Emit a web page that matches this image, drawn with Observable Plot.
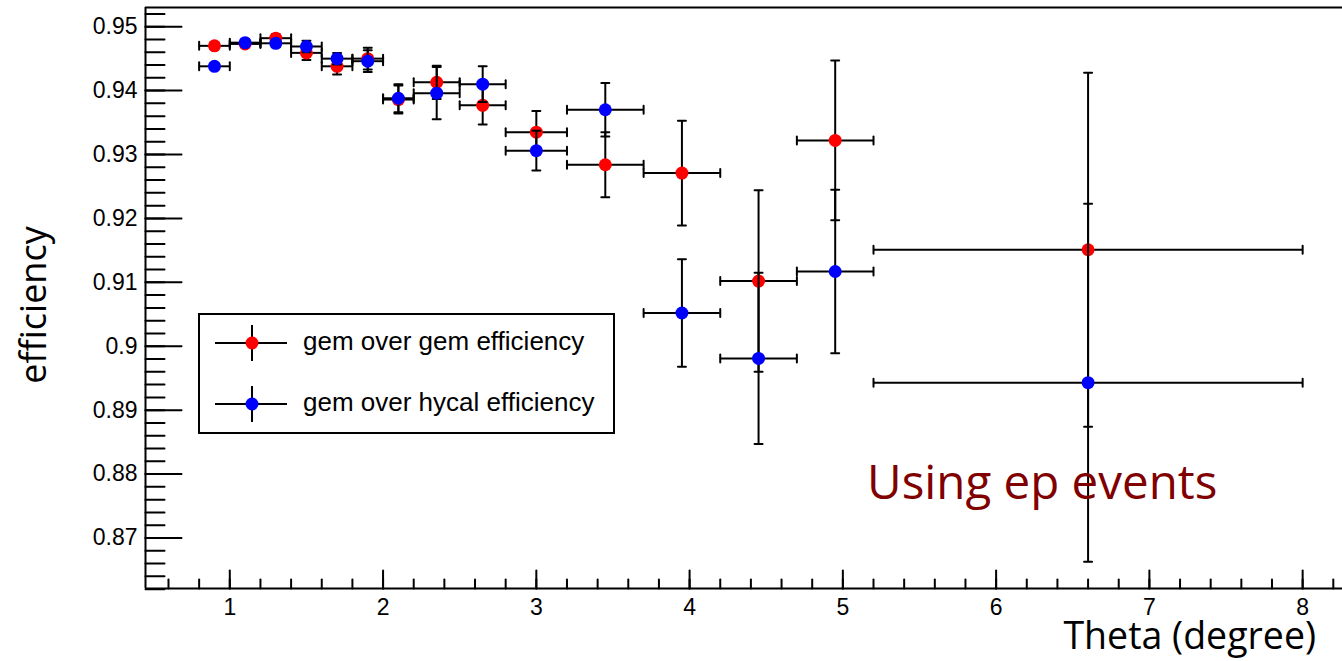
<!DOCTYPE html>
<html>
<head>
<meta charset="utf-8">
<script src="https://cdn.jsdelivr.net/npm/d3@7"></script>
<script src="https://cdn.jsdelivr.net/npm/@observablehq/plot@0.6"></script>
<style>
  html, body { margin: 0; padding: 0; background: #fff; }
  #wrap { position: relative; width: 1342px; height: 661px; overflow: hidden; background: #fff; }
  #wrap svg { display: block; }
</style>
</head>
<body>
<div id="wrap"></div>
<script>
// ---- Data ----
const binLow    = [0.8, 1.0, 1.2, 1.4, 1.6, 1.8, 2.0, 2.2, 2.5, 2.8, 3.2, 3.7, 4.2, 4.7, 5.2];
const binHigh   = [1.0, 1.2, 1.4, 1.6, 1.8, 2.0, 2.2, 2.5, 2.8, 3.2, 3.7, 4.2, 4.7, 5.2, 8.0];
const thetaMid  = [0.9, 1.1, 1.3, 1.5, 1.7, 1.9, 2.1, 2.35, 2.65, 3.0, 3.45, 3.95, 4.45, 4.95, 6.6];

const gemOverGem      = [0.9470, 0.9473, 0.9482, 0.9459, 0.9438, 0.9450, 0.9386, 0.9413, 0.9377, 0.9335, 0.9284, 0.9271, 0.9102, 0.9322, 0.9151];
const gemOverGemErr   = [0.0005, 0.0005, 0.0006, 0.0011, 0.0013, 0.0017, 0.0022, 0.0026, 0.0030, 0.0033, 0.0051, 0.0082, 0.0142, 0.0125, 0.0277];
const gemOverHycal    = [0.9438, 0.9475, 0.9474, 0.9469, 0.9450, 0.9446, 0.9388, 0.9396, 0.9410, 0.9306, 0.9370, 0.9052, 0.8981, 0.9117, 0.8943];
const gemOverHycalErr = [0.0005, 0.0005, 0.0006, 0.0009, 0.0009, 0.0017, 0.0022, 0.0041, 0.0028, 0.0031, 0.0042, 0.0084, 0.0134, 0.0128, 0.0280];

const seriesNames  = ["gem over gem efficiency", "gem over hycal efficiency"];
const seriesColors = ["#ff0000", "#0000ff"];

const xTicks      = [1, 2, 3, 4, 5, 6, 7, 8];
const xTickLabels = ["1", "2", "3", "4", "5", "6", "7", "8"];
const yTicks      = [0.87, 0.88, 0.89, 0.90, 0.91, 0.92, 0.93, 0.94, 0.95];
const yTickLabels = ["0.87", "0.88", "0.89", "0.9", "0.91", "0.92", "0.93", "0.94", "0.95"];
const xMinorTicks = d3.range(3, 42).map(k => k * 0.2);          // 0.6 ... 8.2
const yMinorTicks = d3.range(431, 477).map(k => k * 0.002);      // 0.862 ... 0.952

const xDomain = [0.45, 8.26];
const yDomain = [0.8621, 0.9530];

const xTitle = "Theta (degree)";
const yTitle = "efficiency";
const annotation = "Using ep events";

// ---- Build tables ----
function table(vals, errs) {
  return thetaMid.map((x, i) => ({x, lo: binLow[i], hi: binHigh[i], y: vals[i], e: errs[i]}));
}
const series = [table(gemOverGem, gemOverGemErr), table(gemOverHycal, gemOverHycalErr)];

const lineShape = { draw(context, l) { context.moveTo(0, 0); context.lineTo(0, -l); } };

function seriesMarks(data, color) {
  return [
    Plot.ruleY(data, {y: "y", x1: "lo", x2: "hi", stroke: "black", strokeWidth: 2}),
    Plot.ruleX(data, {x: "x", y1: d => d.y - d.e, y2: d => d.y + d.e, stroke: "black", strokeWidth: 2}),
    Plot.vector(data, {x: "x", y: d => d.y - d.e, rotate: 90, length: 8, anchor: "middle", shape: lineShape, stroke: "black", strokeWidth: 2}),
    Plot.vector(data, {x: "x", y: d => d.y + d.e, rotate: 90, length: 8, anchor: "middle", shape: lineShape, stroke: "black", strokeWidth: 2}),
    Plot.vector(data, {x: "lo", y: "y", rotate: 0, length: 8, anchor: "middle", shape: lineShape, stroke: "black", strokeWidth: 2}),
    Plot.vector(data, {x: "hi", y: "y", rotate: 0, length: 8, anchor: "middle", shape: lineShape, stroke: "black", strokeWidth: 2}),
    Plot.dot(data, {x: "x", y: "y", r: 6.5, fill: color, stroke: "none"})
  ];
}

const tickFont = "'Liberation Sans', Arial, Helvetica, sans-serif";

const chart = Plot.plot({
  width: 1342,
  height: 661,
  marginLeft: 145,
  marginRight: 0,
  marginTop: 7,
  marginBottom: 73,
  style: {background: "white", fontFamily: tickFont, overflow: "hidden"},
  x: {domain: xDomain, axis: null},
  y: {domain: yDomain, axis: null},
  marks: [
    // minor/major ticks (inward)
    Plot.vector(yMinorTicks, {y: d => d, frameAnchor: "left", rotate: 90, length: 19, anchor: "start", shape: lineShape, stroke: "black", strokeWidth: 2}),
    Plot.vector(yTicks, {y: d => d, frameAnchor: "left", rotate: 90, length: 36, anchor: "start", shape: lineShape, stroke: "black", strokeWidth: 2}),
    Plot.vector(xMinorTicks, {x: d => d, frameAnchor: "bottom", rotate: 0, length: 9, anchor: "start", shape: lineShape, stroke: "black", strokeWidth: 2}),
    Plot.vector(xTicks, {x: d => d, frameAnchor: "bottom", rotate: 0, length: 18, anchor: "start", shape: lineShape, stroke: "black", strokeWidth: 2}),
    // frame
    Plot.ruleY([yDomain[0], yDomain[1]], {stroke: "black", strokeWidth: 2}),
    Plot.ruleX([xDomain[0]], {stroke: "black", strokeWidth: 2}),
    // tick labels
    Plot.text(yTicks, {y: d => d, text: (d, i) => yTickLabels[i], frameAnchor: "left", textAnchor: "end", dx: -8, fontSize: 23, fill: "black"}),
    Plot.text(xTicks, {x: d => d, text: (d, i) => xTickLabels[i], frameAnchor: "bottom", lineAnchor: "top", dy: 10, fontSize: 23, fill: "black"}),
    // data
    ...seriesMarks(series[0], seriesColors[0]),
    ...seriesMarks(series[1], seriesColors[1])
  ]
});

document.getElementById("wrap").appendChild(chart);

// ---- Titles, annotation and legend ----
const svg = d3.select(chart);
const g = svg.append("g").attr("text-anchor", "start");
const titleFont = "'Open Sans', 'Noto Sans', sans-serif";

g.append("text").attr("x", 1316).attr("y", 649).attr("text-anchor", "end")
  .attr("font-family", titleFont).attr("font-size", 37.5).attr("fill", "black").text(xTitle);
g.append("text").attr("transform", "translate(46,305) rotate(-90)").attr("text-anchor", "middle")
  .attr("font-family", titleFont).attr("font-size", 36).attr("fill", "black").text(yTitle);
g.append("text").attr("x", 867).attr("y", 499).attr("text-anchor", "start")
  .attr("font-family", titleFont).attr("font-size", 47.5).attr("fill", "#800000").text(annotation);

g.append("rect").attr("x", 199).attr("y", 314).attr("width", 415).attr("height", 119)
  .attr("fill", "white").attr("stroke", "black").attr("stroke-width", 2);
seriesNames.forEach((name, i) => {
  const cy = 343 + i * 61;
  g.append("line").attr("x1", 215).attr("x2", 287).attr("y1", cy).attr("y2", cy).attr("stroke", "black").attr("stroke-width", 2);
  g.append("line").attr("x1", 252).attr("x2", 252).attr("y1", cy - 18).attr("y2", cy + 18).attr("stroke", "black").attr("stroke-width", 2);
  g.append("circle").attr("cx", 252).attr("cy", cy).attr("r", 6.5).attr("fill", seriesColors[i]);
  g.append("text").attr("x", 303).attr("y", cy + 7).attr("text-anchor", "start").attr("font-family", tickFont).attr("font-size", 26)
    .attr("fill", "black").text(name);
});
</script>
</body>
</html>
